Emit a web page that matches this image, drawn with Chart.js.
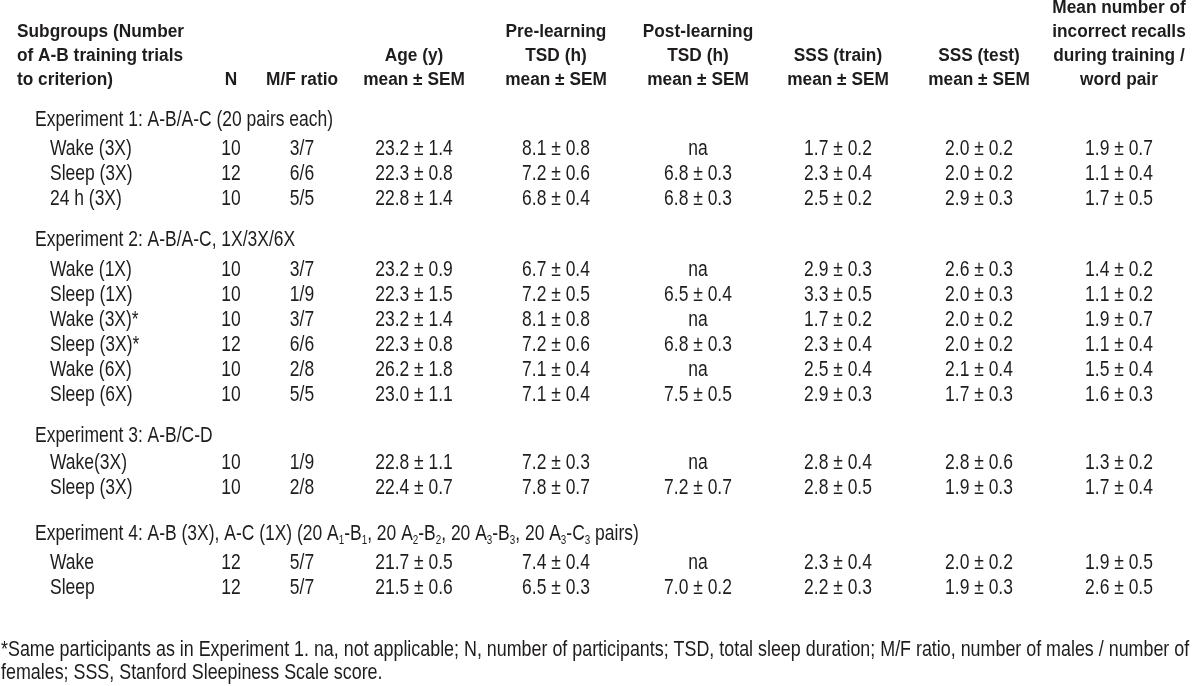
<!DOCTYPE html>
<html><head><meta charset="utf-8">
<script src="https://cdn.jsdelivr.net/npm/chart.js@4.4.0/dist/chart.umd.min.js"></script>
<style>html,body{margin:0;padding:0;background:#fff}#wrap{width:1200px;height:686px;position:relative}</style>
</head><body><div id="wrap"><canvas id="c"></canvas></div>
<script>
// ---------- DATA ----------
const headerFirst = ['Subgroups (Number', 'of A-B training trials', 'to criterion)'];
const headerCols = [
  ['N'],
  ['M/F ratio'],
  ['Age (y)', 'mean ± SEM'],
  ['Pre-learning', 'TSD (h)', 'mean ± SEM'],
  ['Post-learning', 'TSD (h)', 'mean ± SEM'],
  ['SSS (train)', 'mean ± SEM'],
  ['SSS (test)', 'mean ± SEM'],
  ['Mean number of', 'incorrect recalls', 'during training /', 'word pair']
];
const groupLabels = [
  'Experiment 1: A-B/A-C (20 pairs each)',
  'Experiment 2: A-B/A-C, 1X/3X/6X',
  'Experiment 3: A-B/C-D',
  'Experiment 4: A-B (3X), A-C (1X) (20 A_1-B_1, 20 A_2-B_2, 20 A_3-B_3, 20 A_3-C_3 pairs)'
];
const groupOfRow = [0,0,0, 1,1,1,1,1,1, 2,2, 3,3];
const subgroups = ['Wake (3X)','Sleep (3X)','24 h (3X)',
  'Wake (1X)','Sleep (1X)','Wake (3X)*','Sleep (3X)*','Wake (6X)','Sleep (6X)',
  'Wake(3X)','Sleep (3X)','Wake','Sleep'];
const nValues = [10,12,10, 10,10,10,12,10,10, 10,10, 12,12];
const mfRatio = ['3/7','6/6','5/5', '3/7','1/9','3/7','6/6','2/8','5/5', '1/9','2/8', '5/7','5/7'];
const ageMean = [23.2,22.3,22.8, 23.2,22.3,23.2,22.3,26.2,23.0, 22.8,22.4, 21.7,21.5];
const ageSem  = [1.4,0.8,1.4, 0.9,1.5,1.4,0.8,1.8,1.1, 1.1,0.7, 0.5,0.6];
const preMean = [8.1,7.2,6.8, 6.7,7.2,8.1,7.2,7.1,7.1, 7.2,7.8, 7.4,6.5];
const preSem  = [0.8,0.6,0.4, 0.4,0.5,0.8,0.6,0.4,0.4, 0.3,0.7, 0.4,0.3];
const postMean = [null,6.8,6.8, null,6.5,null,6.8,null,7.5, null,7.2, null,7.0];
const postSem  = [null,0.3,0.3, null,0.4,null,0.3,null,0.5, null,0.7, null,0.2];
const sssTrainMean = [1.7,2.3,2.5, 2.9,3.3,1.7,2.3,2.5,2.9, 2.8,2.8, 2.3,2.2];
const sssTrainSem  = [0.2,0.4,0.2, 0.3,0.5,0.2,0.4,0.4,0.3, 0.4,0.5, 0.4,0.3];
const sssTestMean = [2.0,2.0,2.9, 2.6,2.0,2.0,2.0,2.1,1.7, 2.8,1.9, 2.0,1.9];
const sssTestSem  = [0.2,0.2,0.3, 0.3,0.3,0.2,0.2,0.4,0.3, 0.6,0.3, 0.2,0.3];
const incorrectMean = [1.9,1.1,1.7, 1.4,1.1,1.9,1.1,1.5,1.6, 1.3,1.7, 1.9,2.6];
const incorrectSem  = [0.7,0.4,0.5, 0.2,0.2,0.7,0.4,0.4,0.3, 0.2,0.4, 0.5,0.5];
const footnoteLines = [
  '*Same participants as in Experiment 1. na, not applicable; N, number of participants; TSD, total sleep duration; M/F ratio, number of males / number of',
  'females; SSS, Stanford Sleepiness Scale score.'
];

// ---------- LAYOUT ----------
const colX = { head: 17, group: 35, sub: 50, cols: [231, 302, 414, 556, 698, 838, 979, 1119], foot: 1 };
const headerLineY = [8, 32, 56, 80];
const groupY = [120, 240, 436, 534];
const rowY = [149, 174, 199, 270, 295, 320, 345, 370, 395, 463, 488, 563, 588];
const footY = [650, 673];
const INK = '#1f1c1d';

// ---------- helpers ----------
const fmt = (m, s) => (m === null ? 'na' : m.toFixed(1) + ' ± ' + s.toFixed(1));
function hasFont(name) {
  const c = document.createElement('canvas').getContext('2d');
  c.font = '40px monospace'; const w0 = c.measureText('abcdefghiWWWmm').width;
  c.font = '40px "' + name + '", monospace'; const w1 = c.measureText('abcdefghiWWWmm').width;
  return w0 !== w1;
}
const NARROW = hasFont('Liberation Sans Narrow');
const bodyFace = NARROW ? '"Liberation Sans Narrow"' : '"Liberation Sans", Arial, sans-serif';
const bodySX = NARROW ? 1 : 0.82;

const columnsText = [
  nValues.map(String),
  mfRatio,
  ageMean.map((m, i) => fmt(m, ageSem[i])),
  preMean.map((m, i) => fmt(m, preSem[i])),
  postMean.map((m, i) => fmt(m, postSem[i])),
  sssTrainMean.map((m, i) => fmt(m, sssTrainSem[i])),
  sssTestMean.map((m, i) => fmt(m, sssTestSem[i])),
  incorrectMean.map((m, i) => fmt(m, incorrectSem[i]))
];

// ---------- datasets (one point per text cell) ----------
const datasets = [];
function addSet(points, labels, style) {
  datasets.push(Object.assign({ data: points, cellLabels: labels, pointRadius: 0, pointHoverRadius: 0, showLine: false }, style));
}
const HEAD = { bold: true, size: 18, sx: 0.96 };
const BODY = { bold: false, size: 21.3, sx: bodySX };
// header
addSet(headerFirst.map((t, i) => ({ x: colX.head, y: headerLineY[headerLineY.length - headerFirst.length + i] })), headerFirst,
  Object.assign({ align: 'left' }, HEAD));
headerCols.forEach((lines, c) => {
  addSet(lines.map((t, i) => ({ x: colX.cols[c], y: headerLineY[headerLineY.length - lines.length + i] })), lines,
    Object.assign({ align: 'center' }, HEAD));
});
// group labels
addSet(groupLabels.map((t, g) => ({ x: colX.group, y: groupY[g] })), groupLabels, Object.assign({ align: 'left' }, BODY));
// subgroup labels
addSet(subgroups.map((t, r) => ({ x: colX.sub, y: rowY[r] })), subgroups, Object.assign({ align: 'left' }, BODY));
// values
columnsText.forEach((vals, c) => {
  addSet(vals.map((t, r) => ({ x: colX.cols[c], y: rowY[r] })), vals, Object.assign({ align: 'center' }, BODY));
});
// footnote
addSet(footnoteLines.map((t, i) => ({ x: colX.foot, y: footY[i] })), footnoteLines, Object.assign({ align: 'left' }, BODY, { size: 21.8 }));

// ---------- text drawing plugin ----------
function drawRich(ctx, text, x, y, ds) {
  const face = ds.bold ? '"Liberation Sans", Arial, sans-serif' : bodyFace;
  const weight = ds.bold ? 'bold ' : '';
  const sx = ds.sx;
  const size = ds.size;
  const parts = [];
  const re = /_(\d)/g; let last = 0, m;
  while ((m = re.exec(text)) !== null) {
    if (m.index > last) parts.push({ t: text.slice(last, m.index), sub: false });
    parts.push({ t: m[1], sub: true }); last = re.lastIndex;
  }
  if (last < text.length) parts.push({ t: text.slice(last), sub: false });
  const fontFor = p => weight + (p.sub ? Math.round(size * 0.55) : size) + 'px ' + face;
  let total = 0;
  parts.forEach(p => { ctx.font = fontFor(p); p.w = ctx.measureText(p.t).width; total += p.w; });
  ctx.save();
  ctx.translate(x, y);
  ctx.scale(sx, 1);
  ctx.fillStyle = INK;
  ctx.textBaseline = 'middle';
  ctx.textAlign = 'left';
  let cx = ds.align === 'center' ? -total / 2 : 0;
  parts.forEach(p => {
    ctx.font = fontFor(p);
    ctx.fillText(p.t, cx, p.sub ? size * 0.3 : 0);
    cx += p.w;
  });
  ctx.restore();
}
const cellText = {
  id: 'cellText',
  afterDatasetsDraw(chart) {
    const ctx = chart.ctx;
    chart.data.datasets.forEach((ds, di) => {
      const meta = chart.getDatasetMeta(di);
      meta.data.forEach((el, i) => drawRich(ctx, ds.cellLabels[i], el.x, el.y, ds));
    });
  }
};

new Chart(document.getElementById('c'), {
  type: 'scatter',
  data: { datasets },
  options: {
    responsive: true, maintainAspectRatio: false, animation: false,
    layout: { padding: 0 },
    plugins: { legend: { display: false }, tooltip: { enabled: false } },
    events: [],
    scales: {
      x: { type: 'linear', min: 0, max: 1200, display: false },
      y: { type: 'linear', min: 0, max: 686, reverse: true, display: false }
    }
  },
  plugins: [cellText]
});
</script>
</body></html>
